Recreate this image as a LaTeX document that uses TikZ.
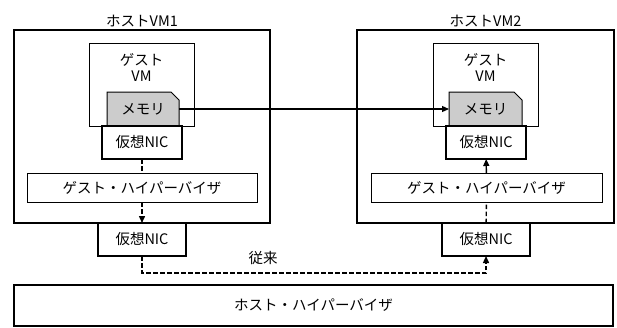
\documentclass[tikz,border=0pt]{standalone}
\usepackage{fontspec}
\setmainfont{Noto Sans CJK JP}
\usetikzlibrary{arrows.meta,shapes.misc}
\begin{document}
\begin{tikzpicture}
	[x=1pt,y=-1pt,
	every node/.style={inner sep=0,outer sep=0,font=\fontsize{14.5}{16}\selectfont},
	hostbox/.style={draw,line width=1.3pt,minimum height=193},
	plainbox/.style={draw,line width=1pt},
	nicbox/.style={draw,fill=white,line width=2.2pt,minimum width=80,minimum height=33},
	membox/.style={draw,fill=black!20,line width=1pt,chamfered rectangle,
		chamfered rectangle corners=north east,chamfered rectangle xsep=4pt,
		chamfered rectangle ysep=4pt,minimum width=72,minimum height=34},
	flow/.style={line width=1.4pt,dash pattern=on 4.5pt off 2.5pt},
	>={Triangle[length=7pt,width=6pt]}]
	\useasboundingbox (0,0) rectangle (617,327);
	\node (host1) [hostbox, minimum width=256,
		label={[yshift=3pt]above:ホストVM1}] at (142, 126.5) {};
	\node (host2) [hostbox, minimum width=257,
		label={[yshift=3pt]above:ホストVM2}] at (485.5, 126.5) {};
	\node (ghyp1) [plainbox, minimum width=230, minimum height=29] at (142, 187.5) {ゲスト・ハイパーバイザ};
	\node (ghyp2) [plainbox, minimum width=231, minimum height=29] at (486.5, 187.5) {ゲスト・ハイパーバイザ};
	\node (guest1) [plainbox, minimum width=105, minimum height=83, align=center,
		label={[anchor=north,yshift=-10pt,align=center]north:ゲスト\\VM}] at (141.5, 84.5) {};
	\node (guest2) [plainbox, minimum width=105, minimum height=83, align=center,
		label={[anchor=north,yshift=-10pt,align=center]north:ゲスト\\VM}] at (485.5, 84.5) {};
	\node (mem1) [membox] at (143, 109) {\raisebox{-2pt}{メモリ}};
	\node (mem2) [membox, minimum width=73] at (485.5, 109) {\raisebox{-2pt}{メモリ}};
	\node (nic1) [nicbox] at (142, 142.5) {仮想NIC};
	\node (nic2) [nicbox] at (486, 142.5) {仮想NIC};
	\node (lnic1) [nicbox, line width=1.3pt, minimum width=88] at (142, 239.5) {仮想NIC};
	\node (lnic2) [nicbox, line width=1.3pt, minimum width=88] at (486, 239.5) {仮想NIC};
	\node (hhyp) [draw, line width=1.3pt, minimum width=599, minimum height=41] at (313.5, 305.5) {ホスト・ハイパーバイザ};
	\node (legacy) at (263, 258) {従来};
	\coordinate (turn) at (486, 273);
	% memory copy
	\draw [->, line width=1.2pt] (mem1.east) -- (mem2.west);
	% legacy path
	\draw [flow] (nic1) -- (ghyp1);
	\draw [flow, ->] (ghyp1) -- (lnic1);
	\draw [flow, ->] (lnic1.south) |- (turn) -- (lnic2.south);
	\draw [flow] (lnic2) -- (ghyp2);
	\draw [line width=1.4pt, ->] (ghyp2) -- (nic2);
\end{tikzpicture}
\end{document}
